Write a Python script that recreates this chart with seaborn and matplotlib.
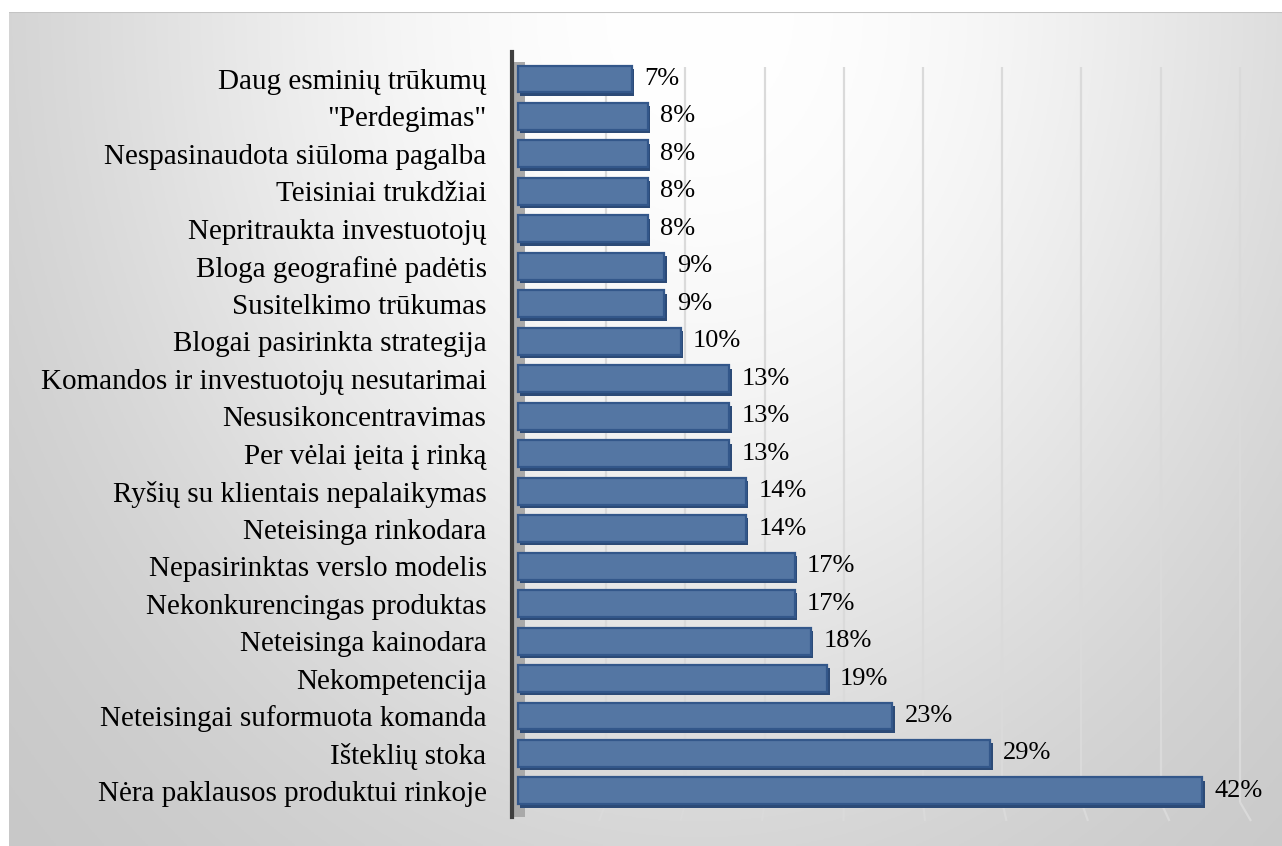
import numpy as np
import pandas as pd
import matplotlib
matplotlib.use("Agg")
import matplotlib.pyplot as plt
import matplotlib.patheffects as pe
import seaborn as sns

# Reasons for startup failure, share of respondents (%)
categories = [
    "Daug esminių trūkumų",
    "\"Perdegimas\"",
    "Nespasinaudota siūloma pagalba",
    "Teisiniai trukdžiai",
    "Nepritraukta investuotojų",
    "Bloga geografinė padėtis",
    "Susitelkimo trūkumas",
    "Blogai pasirinkta strategija",
    "Komandos ir investuotojų nesutarimai",
    "Nesusikoncentravimas",
    "Per vėlai įeita į rinką",
    "Ryšių su klientais nepalaikymas",
    "Neteisinga rinkodara",
    "Nepasirinktas verslo modelis",
    "Nekonkurencingas produktas",
    "Neteisinga kainodara",
    "Nekompetencija",
    "Neteisingai suformuota komanda",
    "Išteklių stoka",
    "Nėra paklausos produktui rinkoje",
]
values = [7, 8, 8, 8, 8, 9, 9, 10, 13, 13, 13, 14, 14, 17, 17, 18, 19, 23, 29, 42]
value_labels = [f"{v}%" for v in values]
grid_steps = [5, 10, 15, 20, 25, 30, 35, 40, 45]

df = pd.DataFrame({"reason": categories, "share": values})

sns.set_theme(style="white")
plt.rcParams["font.family"] = ["Liberation Serif", "DejaVu Serif"]

W, H = 1282, 846
fig = plt.figure(figsize=(W / 100, H / 100), dpi=100)
fig.patch.set_facecolor("white")

# Soft radial gradient backdrop of the chart area
bg = fig.add_axes([9 / W, 0, 1 - 9 / W, (H - 12) / H])
bg.set_axis_off()
gx = np.linspace(9, W, 400)
gy = np.linspace(12, H, 300)
X, Y = np.meshgrid(gx, gy)
r2 = ((X - 700) / 720) ** 2 + ((Y - 10) / 900) ** 2
shade = 255 - 58 * np.tanh(r2)
img = np.dstack([shade, shade, shade]) / 255.0
bg.imshow(img, aspect="auto", extent=[0, 1, 0, 1], origin="upper")
bg.set_xlim(0, 1)
bg.set_ylim(0, 1)
bg.axhline(1, color="#c4c4c4", lw=1.5)

# Plot area geometry (pixels)
px_per_unit = 16.3
x0_px = 517.5
left_px, right_px = 511.5, 1268
top_px, bot_px = 52, 817
ax = fig.add_axes([left_px / W, 1 - bot_px / H, (right_px - left_px) / W, (bot_px - top_px) / H])
ax.set_facecolor("none")

n = len(categories)
pitch = 37.47
first_center = 79

sns.barplot(
    data=df, x="share", y="reason", orient="h", ax=ax,
    color="#5476a3", width=0.72, edgecolor="#33578a", linewidth=1.6,
    saturation=1, zorder=2,
)
for patch in ax.patches:
    patch.set_path_effects([
        pe.SimplePatchShadow(offset=(1.8, -2.4), shadow_rgbFace="#2c4a76", alpha=1.0),
        pe.Normal(),
    ])

ax.set_xlim((left_px - x0_px) / px_per_unit, (right_px - x0_px) / px_per_unit)
ax.set_ylim(n - 1 + (bot_px - (first_center + (n - 1) * pitch)) / pitch,
            -(first_center - top_px) / pitch)


def px_to_ydata(py):
    y_top, y_bot = ax.get_ylim()[1], ax.get_ylim()[0]
    return y_top + (py - top_px) / (bot_px - top_px) * (y_bot - y_top)


# Back-wall gridlines (slightly compressed and shifted, as on a 3-D wall)
# plus the short floor lines running forward to the front scale
wall_off, wall_scale = 0.58, 0.972
grid_color = "#dadada"
y_wall_top, y_wall_bot, y_floor = px_to_ydata(67), px_to_ydata(802), px_to_ydata(821)
for g in grid_steps:
    xv = wall_off + wall_scale * g
    ax.plot([xv, xv], [y_wall_top, y_wall_bot], color=grid_color, lw=1.6,
            zorder=0, solid_capstyle="butt")
    ax.plot([xv, g], [y_wall_bot, y_floor], color=grid_color, lw=1.6,
            zorder=0, clip_on=False, solid_capstyle="butt")

# Side wall strip next to the category axis
ax.axvspan(ax.get_xlim()[0], wall_off * 0.8, ymin=0, ymax=1 - (62 - top_px) / (bot_px - top_px),
           color="#a9a9a9", zorder=0.5, lw=0)

ax.bar_label(ax.containers[0], labels=value_labels, padding=9,
             fontsize=19, color="black", family="Liberation Serif")

ax.set_xlabel("")
ax.set_ylabel("")
ax.set_xticks([])
ax.tick_params(axis="y", length=0, pad=18, labelsize=21, labelcolor="black")
for lab in ax.get_yticklabels():
    lab.set_family("Liberation Serif")

for side in ["top", "right", "bottom"]:
    ax.spines[side].set_visible(False)
ax.spines["left"].set_color("#3f3f3f")
ax.spines["left"].set_linewidth(3)
ax.spines["left"].set_zorder(3)

fig.savefig("out.png", dpi=100)
